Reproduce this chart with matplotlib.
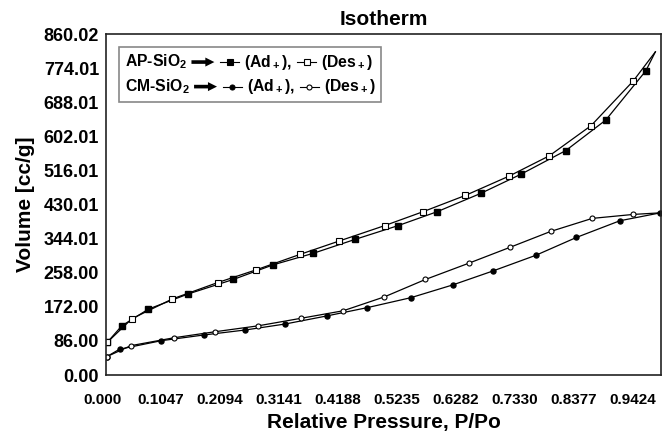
import matplotlib
matplotlib.use('Agg')
import matplotlib.pyplot as plt
from matplotlib.lines import Line2D
from matplotlib.patches import FancyArrow
from matplotlib.transforms import ScaledTranslation
from matplotlib.offsetbox import AnchoredOffsetbox, TextArea, DrawingArea, HPacker, VPacker

plt.rcParams['font.family'] = ['Liberation Sans', 'DejaVu Sans']
plt.rcParams['font.weight'] = 'bold'
plt.rcParams['mathtext.fontset'] = 'custom'
plt.rcParams['mathtext.rm'] = 'Liberation Sans:bold'
plt.rcParams['mathtext.it'] = 'Liberation Sans:bold'
plt.rcParams['mathtext.bf'] = 'Liberation Sans:bold'
plt.rcParams['mathtext.default'] = 'rm'

# AP-SiO2 adsorption / desorption
ap_ads_x = [0.002, 0.028, 0.075, 0.145, 0.226, 0.297, 0.368, 0.442, 0.519, 0.588,
            0.665, 0.736, 0.816, 0.887, 0.958, 0.975]
ap_ads_y = [82, 124, 166, 204, 241, 278, 307, 342, 377, 412,
            458, 506, 566, 643, 767, 815]
ap_des_x = [0.975, 0.936, 0.861, 0.787, 0.716, 0.638, 0.563, 0.495, 0.414, 0.344,
            0.266, 0.198, 0.118, 0.046, 0.002]
ap_des_y = [815, 742, 629, 553, 502, 453, 412, 377, 338, 304,
            265, 233, 192, 142, 82]

# CM-SiO2 adsorption / desorption
cm_ads_x = [0.001, 0.024, 0.098, 0.174, 0.247, 0.318, 0.392, 0.464, 0.541, 0.615,
            0.686, 0.763, 0.835, 0.912, 0.984]
cm_ads_y = [46, 65, 86.5, 101, 113.5, 128.6, 149, 170, 195, 227,
            262, 302, 347, 389, 409]
cm_des_x = [0.984, 0.936, 0.863, 0.789, 0.717, 0.644, 0.567, 0.494, 0.421, 0.346,
            0.270, 0.193, 0.121, 0.044, 0.001]
cm_des_y = [409, 405, 395, 362, 322, 282, 241, 197, 162, 143,
            124, 109, 94, 74, 46]

x_ticks = [k * 0.10472 for k in range(10)]
x_labels = ['0.000', '0.1047', '0.2094', '0.3141', '0.4188', '0.5235',
            '0.6282', '0.7330', '0.8377', '0.9424']
y_ticks = [k * 86.002 for k in range(11)]
y_labels = ['0.00', '86.00', '172.00', '258.00', '344.01', '430.01',
            '516.01', '602.01', '688.01', '774.01', '860.02']

fig = plt.figure(figsize=(6.62, 4.36), dpi=100)
ax = fig.add_axes([106 / 662, 61 / 436, 555 / 662, 341 / 436])

lw = 0.9
ax.plot(ap_ads_x, ap_ads_y, color='black', lw=lw, marker='s', ms=4.2,
        mfc='black', mec='black', markevery=slice(0, -1))
ax.plot(ap_des_x, ap_des_y, color='black', lw=lw, marker='s', ms=4.2,
        mfc='white', mec='black', mew=0.8, markevery=slice(1, None))
ax.plot(cm_ads_x, cm_ads_y, color='black', lw=lw, marker='o', ms=3.6,
        mfc='black', mec='black')
ax.plot(cm_des_x, cm_des_y, color='black', lw=lw, marker='o', ms=3.6,
        mfc='white', mec='black', mew=0.8, markevery=slice(1, None))

ax.set_xlim(0, 0.985)
ax.set_ylim(0, 860.02)
ax.set_xticks(x_ticks)
ax.set_xticklabels(x_labels)
ax.set_yticks(y_ticks)
ax.set_yticklabels(y_labels)
ax.tick_params(axis='both', length=0)
ax.tick_params(axis='x', pad=13, labelsize=11)
ax.tick_params(axis='y', pad=5, labelsize=13)
shift = ScaledTranslation(-4 / 100, 0, fig.dpi_scale_trans)
for lab in ax.get_xticklabels():
    lab.set_transform(lab.get_transform() + shift)
for s in ax.spines.values():
    s.set_linewidth(1.2)
    s.set_color('#222222')

ax.set_title('Isotherm', fontsize=15, fontweight='bold', pad=6.5)
ax.set_xlabel('Relative Pressure, P/Po', fontsize=15, fontweight='bold', labelpad=4)
ax.set_ylabel('Volume [cc/g]', fontsize=15, fontweight='bold', labelpad=6)


# legend built from text boxes and small key drawings
def key(marker, face, ms):
    da = DrawingArea(14, 10, 0, 0)
    da.add_artist(Line2D([0, 14], [5, 5], color='black', lw=0.8))
    da.add_artist(Line2D([7], [5], marker=marker, ms=ms, mfc=face,
                         mec='black', mew=0.8, lw=0))
    return da


def arrow():
    da = DrawingArea(17, 10, 0, 0)
    da.add_artist(FancyArrow(0, 5, 16.5, 0, width=2.6, head_width=6.5, head_length=6.5,
                             length_includes_head=True, color='black', lw=0))
    return da


tp = dict(fontsize=11.3, fontweight='bold')


def row(name, marker, ms):
    return HPacker(children=[TextArea(name, textprops=tp), arrow(),
                             key(marker, 'black', ms),
                             TextArea('(Ad$_+$),', textprops=tp),
                             key(marker, 'white', ms),
                             TextArea('(Des$_+$)', textprops=tp)],
                   align='center', pad=0, sep=3.5)


box = VPacker(children=[row('AP-SiO$_2$', 's', 4.2), row('CM-SiO$_2$', 'o', 3.6)],
              align='left', pad=0, sep=4)
anch = AnchoredOffsetbox(loc='upper left', child=box, pad=0.4, borderpad=0,
                         frameon=True, bbox_to_anchor=(13 / 555, 1 - 13 / 341),
                         bbox_transform=ax.transAxes)
anch.patch.set_edgecolor('#888888')
anch.patch.set_linewidth(1.2)
anch.patch.set_boxstyle('square', pad=0)
ax.add_artist(anch)

fig.savefig('out.png', dpi=100)
